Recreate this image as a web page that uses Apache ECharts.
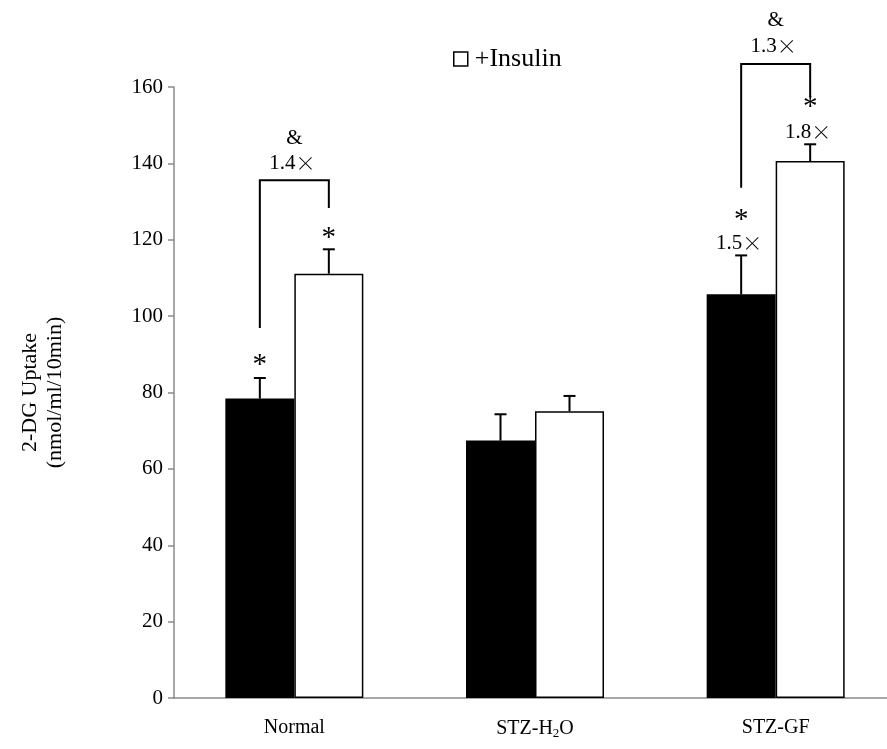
<!DOCTYPE html>
<html><head><meta charset="utf-8">
<script src="https://cdn.jsdelivr.net/npm/echarts@6/dist/echarts.min.js"></script>
<style>html,body{margin:0;padding:0;background:#fff}#c{width:887px;height:749px}</style>
</head><body><div id="c"></div>
<script>
const categories = ['Normal', 'STZ-H2O', 'STZ-GF'];
const controlValues = [78.4, 67.4, 105.7];
const controlErrors = [5.4, 6.9, 10.2];
const insulinValues = [111.1, 75.1, 140.6];
const insulinErrors = [6.4, 4.0, 4.4];
const yMin = 0, yMax = 160, yInterval = 20;
// bracket: category, left bottom, top, right bottom (data units)
const brackets = [[0, 96.9, 135.6, 128.3], [2, 133.6, 166, 157.4]];
// annotation: category, side (-1 control bar, 0 centre, 1 insulin bar), value, text
const annCategory = [0, 0, 0, 0, 2, 2, 2, 2, 2, 2];
const annSide     = [-1, 1, 0, 0, -1, -1, 1, 1, 0, 0];
const annValue    = [88.5, 121.7, 140.1, 146.6, 126.4, 119.1, 156.0, 148.2, 170.5, 177.5];
const annText     = ['*', '*', '1.4×', '&', '*', '1.5×', '*', '1.8×', '1.3×', '&'];

const FONT = '"Liberation Serif", "Times New Roman", serif';
const BAR_W = 69;
const HALF = BAR_W / 2;

function errorSeries(vals, errs, side) {
  return {
    type: 'custom', z: 5, silent: true,
    data: vals.map((v, i) => [i, v, v + errs[i]]),
    encode: { x: 0, y: [1, 2] },
    renderItem(params, api) {
      const p0 = api.coord([api.value(0), api.value(1)]);
      const p1 = api.coord([api.value(0), api.value(2)]);
      const x = p0[0] + side * HALF;
      return { type: 'group', children: [
        { type: 'line', shape: { x1: x, y1: p0[1], x2: x, y2: p1[1] }, style: { stroke: '#000', lineWidth: 2 } },
        { type: 'line', shape: { x1: x - 6, y1: p1[1], x2: x + 6, y2: p1[1] }, style: { stroke: '#000', lineWidth: 2 } }
      ]};
    }
  };
}

function annRich(t) {
  if (t.indexOf('×') >= 0) return '{n|' + t.replace('×', '') + '}{x|×}';
  return '{n|' + t + '}';
}

const chart = echarts.init(document.getElementById('c'), null, { renderer: 'canvas' });
chart.setOption({
  animation: false,
  backgroundColor: '#fff',
  grid: { left: 174, width: 722, top: 87, bottom: 51, containLabel: false, outerBoundsMode: 'none' },
  legend: {
    data: ['+Insulin'], left: 448, top: 41, icon: 'rect', itemWidth: 14, itemHeight: 14, itemGap: 10,
    itemStyle: { color: '#fff', borderColor: '#000', borderWidth: 1.5 },
    textStyle: { fontFamily: FONT, fontSize: 26, color: '#000', padding: [0, 0, 0, 2] }
  },
  xAxis: {
    type: 'category', data: categories,
    axisLine: { lineStyle: { color: '#8a8a8a', width: 1.5 } },
    axisTick: { length: 7, interval: 0, lineStyle: { color: '#8a8a8a', width: 1.5 } },
    axisLabel: {
      margin: 20, color: '#000', fontFamily: FONT, fontSize: 20,
      formatter: v => v.replace('H2O', 'H{s|2}O'),
      rich: { s: { fontFamily: FONT, fontSize: 13, color: '#000', padding: [9, 0, 0, 0] } }
    }
  },
  yAxis: {
    type: 'value', min: yMin, max: yMax, interval: yInterval,
    name: '2-DG Uptake\n(nmol/ml/10min)', nameLocation: 'middle', nameRotate: 90, nameGap: 106,
    nameTextStyle: { fontFamily: FONT, fontSize: 22, color: '#000', lineHeight: 25 },
    splitLine: { show: false },
    axisLine: { show: true, lineStyle: { color: '#8a8a8a', width: 1.5 } },
    axisTick: { show: true, length: 6, lineStyle: { color: '#8a8a8a', width: 1.5 } },
    axisLabel: { margin: 11, color: '#000', fontFamily: FONT, fontSize: 21 }
  },
  series: [
    { name: 'Control', type: 'bar', data: controlValues, barWidth: BAR_W, barGap: '0%',
      itemStyle: { color: '#000' } },
    { name: '+Insulin', type: 'bar', data: insulinValues, barWidth: BAR_W, barGap: '0%',
      itemStyle: { color: '#fff', borderColor: '#000', borderWidth: 1.5 } },
    errorSeries(controlValues, controlErrors, -1),
    errorSeries(insulinValues, insulinErrors, 1),
    {
      type: 'custom', z: 6, silent: true,
      data: brackets, encode: { x: 0, y: [1, 2, 3] },
      renderItem(params, api) {
        const c = api.value(0);
        const lb = api.coord([c, api.value(1)]);
        const tp = api.coord([c, api.value(2)]);
        const rb = api.coord([c, api.value(3)]);
        const xl = lb[0] - HALF, xr = lb[0] + HALF;
        return { type: 'polyline', shape: { points: [[xl, lb[1]], [xl, tp[1]], [xr, tp[1]], [xr, rb[1]]] },
          style: { stroke: '#000', lineWidth: 2, fill: null } };
      }
    },
    {
      type: 'custom', z: 7, silent: true,
      data: annCategory.map((c, i) => [c, annValue[i]]), encode: { x: 0, y: 1 },
      renderItem(params, api) {
        const i = params.dataIndex;
        const p = api.coord([api.value(0), api.value(1)]);
        const t = annText[i];
        const star = t === '*';
        if (star) {
          return { type: 'text', x: p[0] + annSide[i] * HALF, y: p[1] + 5,
            style: { text: '*', fontFamily: FONT, fontSize: 29, fill: '#000', align: 'center', verticalAlign: 'middle' } };
        }
        return { type: 'text', x: p[0] + annSide[i] * HALF - (t.indexOf('×') >= 0 ? 2 : 0), y: p[1],
          style: { text: annRich(t), align: 'center', verticalAlign: 'middle',
            rich: {
              n: { fontFamily: FONT, fontSize: 21, fill: '#000', color: '#000' },
              x: { fontFamily: '"Noto Sans CJK JP", sans-serif', fontSize: 20, fill: '#000', color: '#000', fontWeight: 300 }
            } } };
      }
    }
  ]
});
</script></body></html>
